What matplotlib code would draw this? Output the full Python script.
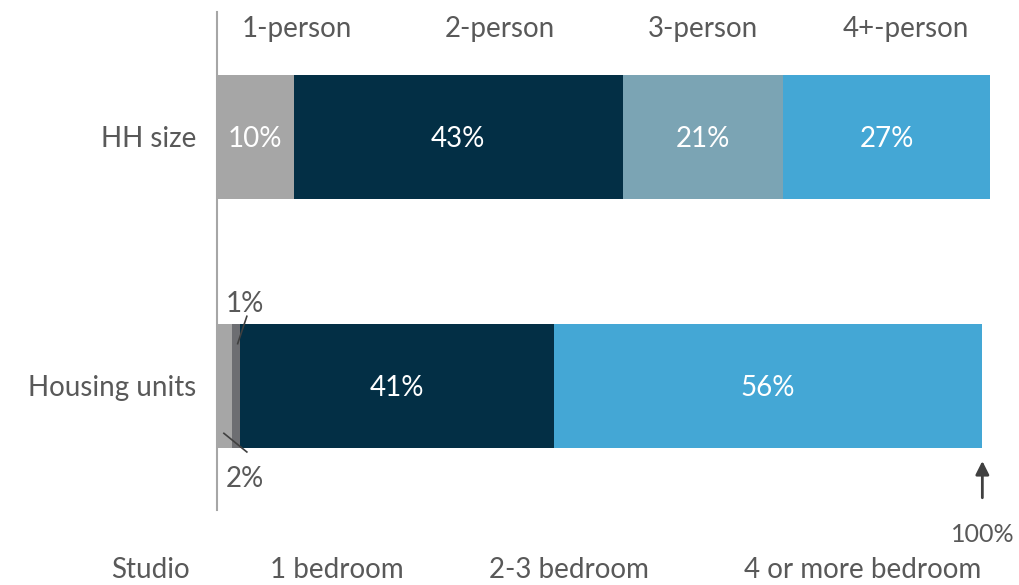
import numpy as np
import matplotlib.pyplot as plt

plt.rcParams['font.family'] = ['Lato', 'DejaVu Sans']

rows = ["Housing units", "HH size"]

hh_labels = ["1-person", "2-person", "3-person", "4+-person"]
hh_values = [10, 43, 21, 27]
hh_colors = ["#A6A6A6", "#032F45", "#7BA4B4", "#44A7D5"]

unit_labels = ["Studio", "1 bedroom", "2-3 bedroom", "4 or more bedroom"]
unit_values = [2, 1, 41, 56]
unit_colors = ["#A6A6A6", "#6D6E72", "#032F45", "#44A7D5"]

TXT = "#595959"
FS = 20
W, H = 1020, 585
fig = plt.figure(figsize=(W / 100, H / 100), dpi=100)
ax = fig.add_axes([217 / W, 75 / H, (990 - 217) / W, 498 / H])

bar_h = 0.5
for y, vals, cols in [(1, hh_values, hh_colors), (0, unit_values, unit_colors)]:
    left = 0
    for v, c in zip(vals, cols):
        ax.barh(y, v, left=left, height=bar_h, color=c, edgecolor="none")
        if v >= 5:
            ax.text(left + v / 2, y, f"{v}%", ha="center", va="center_baseline",
                    color="white", fontsize=FS)
        left += v

ax.set_xlim(0, 101)
ax.set_ylim(-0.498, 1.502)
for s in ["top", "right", "bottom"]:
    ax.spines[s].set_visible(False)
ax.spines["left"].set_color("#A6A6A6")
ax.spines["left"].set_linewidth(1.5)
ax.set_xticks([])
ax.set_yticks([0, 1])
ax.set_yticklabels(rows, fontsize=FS, color=TXT)
ax.tick_params(axis="y", length=0, pad=15)

# small slices of the housing bar get leader lines
studio, one_bed = unit_values[0], unit_values[1]
ax.plot([studio + 0.7, studio + 1.9], [0.17, 0.25 + 0.03],
        color="#404040", lw=1.2, clip_on=False)
ax.text(studio + 1.7, 0.34, f"{one_bed}%", ha="center", va="center_baseline",
        color=TXT, fontsize=FS)
ax.plot([studio * 0.6 - 0.3, studio + 1.9], [-0.19, -0.265],
        color="#404040", lw=1.2, clip_on=False)
ax.text(studio + 1.7, -0.365, f"{studio}%", ha="center", va="center_baseline",
        color=TXT, fontsize=FS)

total = sum(unit_values)
ax.annotate("", xy=(total, -0.29), xytext=(total, -0.46),
            arrowprops=dict(arrowstyle="-|>", color="#404040", lw=2,
                            mutation_scale=20), annotation_clip=False)
fig.text(983 / W, 1 - 532 / H, f"{total}%", ha="center", va="center_baseline",
         color=TXT, fontsize=18)

# category names above and below the plot
for lab, x in zip(hh_labels, [297, 500, 703, 906]):
    fig.text(x / W, 1 - 27 / H, lab, ha="center", va="center_baseline",
             color=TXT, fontsize=FS)
for lab, x in zip(unit_labels, [150, 337, 569, 863]):
    fig.text(x / W, 1 - 568 / H, lab, ha="center", va="center_baseline",
             color=TXT, fontsize=FS)

fig.savefig("out.png", dpi=100)
